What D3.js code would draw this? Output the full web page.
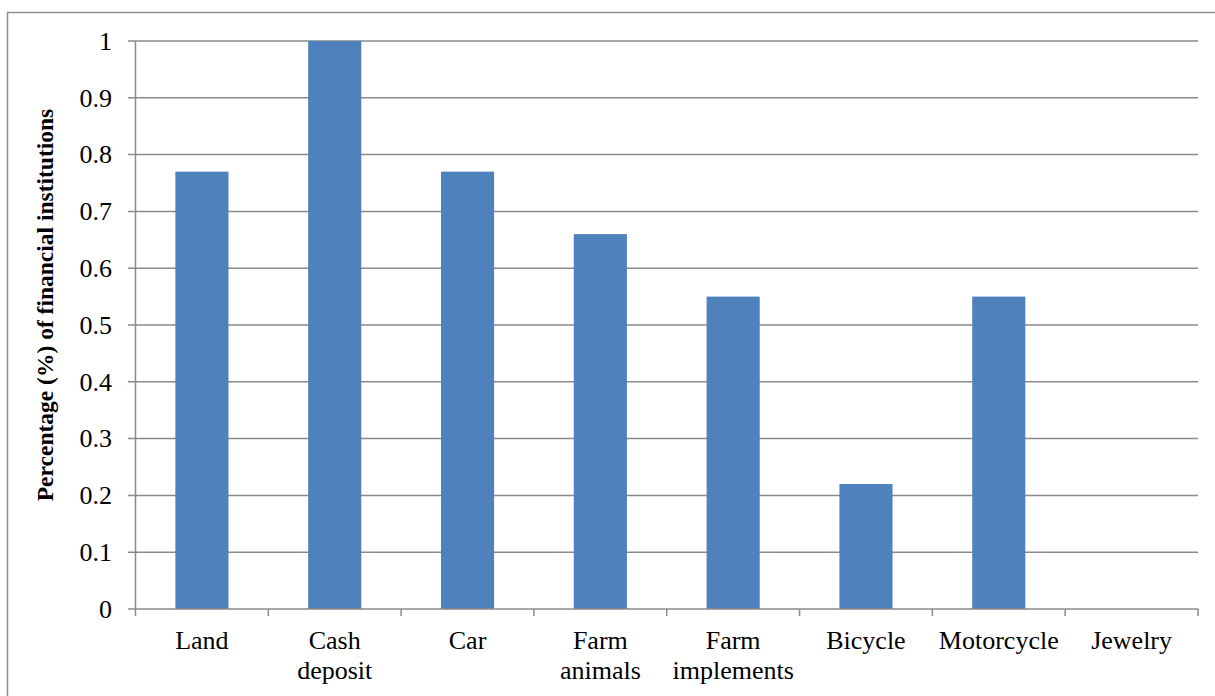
<!DOCTYPE html>
<html>
<head>
<meta charset="utf-8">
<script src="https://cdn.jsdelivr.net/npm/d3@7"></script>
<style>
  html, body { margin: 0; padding: 0; background: #fff; }
  svg { display: block; }
</style>
</head>
<body>
<svg id="chart" width="1215" height="696"></svg>
<script>
// Collateral types accepted, share of financial institutions
const categories = [["Land"], ["Cash", "deposit"], ["Car"], ["Farm", "animals"], ["Farm", "implements"], ["Bicycle"], ["Motorcycle"], ["Jewelry"]];
const values = [0.77, 1.0, 0.77, 0.66, 0.55, 0.22, 0.55, 0];
const yTicks = [0, 0.1, 0.2, 0.3, 0.4, 0.5, 0.6, 0.7, 0.8, 0.9, 1];
const yTitle = "Percentage (%) of financial institutions";

const FONT = "Liberation Serif";
const svg = d3.select("#chart");
const gridColor = "#8a8a8a";
const plot = { left: 135.5, right: 1198, top: 41, bottom: 609 };

// outer frame
svg.append("rect")
  .attr("x", 7.5).attr("y", 12.5)
  .attr("width", 1400).attr("height", 1000)
  .attr("fill", "none").attr("stroke", "#8c8c8c").attr("stroke-width", 1.5);

const keys = categories.map(c => c.join(" "));
const x = d3.scaleBand().domain(keys).range([plot.left, plot.right]).paddingInner(0.6).paddingOuter(0.3);
const y = d3.scaleLinear().domain([0, 1]).range([plot.bottom, plot.top]);

// horizontal gridlines with their left tick stubs
svg.append("g").selectAll("line").data(yTicks.filter(d => d > 0)).join("line")
  .attr("x1", plot.left - 7.5).attr("x2", plot.right)
  .attr("y1", d => y(d)).attr("y2", d => y(d))
  .attr("stroke", gridColor).attr("stroke-width", 1.5);

// y tick labels
svg.append("g").selectAll("text").data(yTicks).join("text")
  .attr("font-family", FONT)
  .attr("x", 112).attr("y", d => y(d))
  .attr("dy", "0.34em")
  .attr("text-anchor", "end")
  .attr("font-size", 26)
  .text(d => String(d));

// bars
svg.append("g").selectAll("rect").data(values).join("rect")
  .attr("x", (d, i) => x(keys[i]))
  .attr("y", d => y(d))
  .attr("width", x.bandwidth())
  .attr("height", d => y(0) - y(d))
  .attr("fill", "#4f81bd");

// y axis line
svg.append("line")
  .attr("x1", plot.left).attr("x2", plot.left).attr("y1", plot.top).attr("y2", plot.bottom)
  .attr("stroke", gridColor).attr("stroke-width", 1.5);

// x axis line and category boundary ticks
svg.append("line")
  .attr("x1", plot.left - 7.5).attr("x2", plot.right).attr("y1", plot.bottom).attr("y2", plot.bottom)
  .attr("stroke", gridColor).attr("stroke-width", 1.5);
const step = (plot.right - plot.left) / keys.length;
svg.append("g").selectAll("line").data(d3.range(keys.length + 1)).join("line")
  .attr("x1", i => plot.left + i * step)
  .attr("x2", i => plot.left + i * step)
  .attr("y1", plot.bottom).attr("y2", plot.bottom + 7)
  .attr("stroke", gridColor).attr("stroke-width", 1.5);

// category labels
const labels = svg.append("g").selectAll("text").data(categories).join("text")
  .attr("font-family", FONT)
  .attr("text-anchor", "middle")
  .attr("font-size", 26);
labels.each(function(lines, i) {
  const cx = x(keys[i]) + x.bandwidth() / 2;
  d3.select(this).selectAll("tspan").data(lines).join("tspan")
    .attr("x", cx)
    .attr("y", (d, j) => 649 + j * 30)
    .text(d => d);
});

// y axis title
svg.append("text")
  .attr("font-family", FONT)
  .attr("transform", "translate(53,305) rotate(-90)")
  .attr("text-anchor", "middle")
  .attr("font-size", 23.5)
  .attr("font-weight", "bold")
  .text(yTitle);
</script>
</body>
</html>
